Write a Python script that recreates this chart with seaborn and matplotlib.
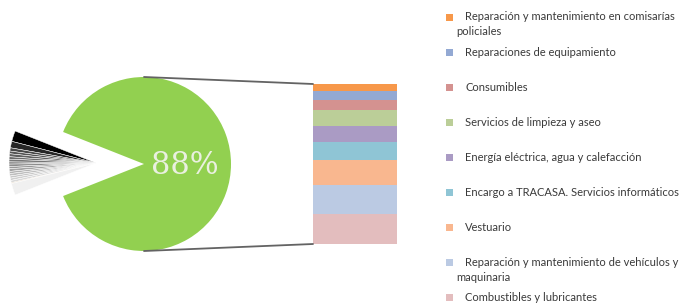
import matplotlib
matplotlib.use("Agg")
import matplotlib.pyplot as plt
import seaborn as sns
import pandas as pd
import numpy as np
from matplotlib.patches import ConnectionPatch, Rectangle

# ---------------- data ----------------
main_share = 88.0          # green slice (broken down in the bar)
main_label = "88%"

categories = [
    "Reparación y mantenimiento en comisarías\npoliciales",
    "Reparaciones de equipamiento",
    "Consumibles",
    "Servicios de limpieza y aseo",
    "Energía eléctrica, agua y calefacción",
    "Encargo a TRACASA. Servicios informáticos",
    "Vestuario",
    "Reparación y mantenimiento de vehículos y\nmaquinaria",
    "Combustibles y lubricantes",
]
bar_values = [4.0, 4.95, 5.5, 8.8, 8.6, 10.1, 13.75, 15.8, 16.5]  # top -> bottom
bar_colors = ["#F7984A", "#93A9D3", "#D49290", "#BBCE98", "#AA9BC4",
              "#8FC5D5", "#F9B78F", "#BBCAE3", "#E3BDBE"]

# small items of the exploded 12 % slice (top -> bottom)
other_values = [2.0, 1.2, 0.6, 0.5, 0.55, 0.45, 0.5, 0.4, 0.45, 0.4,
                0.5, 0.4, 0.45, 0.4, 0.42, 0.42, 0.16, 2.2]

# ---------------- style ----------------
sns.set_theme(style="white")
plt.rcParams["font.family"] = ["Lato", "DejaVu Sans"]

W, H = 681, 304
fig = plt.figure(figsize=(W / 100, H / 100), dpi=100)
fig.patch.set_facecolor("white")

# pie axes in pixel units (y up)
ax = fig.add_axes([0, 0, 1, 1])
R = 87
cx, cy = 144, H - 164
ecx, ecy = 96, H - 163

other_total = sum(other_values)
half = 360 * other_total / (other_total + main_share) / 2
start = 180 - half

n_mid = len(other_values) - 4
mid_grays = [plt.cm.Greys(v) for v in np.linspace(0.78, 0.25, n_mid)]
other_colors = ["#000000", "#262626"] + mid_grays + ["#D8C3A8", "#F0F0F0"]

ax.pie(other_values + [main_share], colors=other_colors + ["none"],
       startangle=start, counterclock=True, center=(ecx, ecy), radius=R,
       wedgeprops=dict(edgecolor="white", linewidth=0.35))
# hide the edge of the invisible wedge
ax.patches[-1].set_edgecolor("none")

wedges, _ = ax.pie([other_total, main_share], colors=["none", "#92D050"],
                   startangle=start, counterclock=True, center=(cx, cy),
                   radius=R, wedgeprops=dict(linewidth=0))
ax.text(185, H - 165, main_label, ha="center", va="center",
        fontsize=22, color="#EAF0E0", family="DejaVu Serif")
ax.set_xlim(0, W)
ax.set_ylim(0, H)
ax.set_aspect("equal")
ax.axis("off")

# ---------------- stacked bar ----------------
bx0, by0, bw, bh = 313, H - 244, 84, 160
axb = fig.add_axes([bx0 / W, by0 / H, bw / W, bh / H])
cum = [sum(bar_values[i:]) for i in range(len(bar_values))]
df = pd.DataFrame({"g": [""] * len(categories), "cum": cum, "cat": categories})
sns.barplot(data=df, x="g", y="cum", hue="cat", hue_order=categories,
            palette=bar_colors, dodge=False, width=1.0, linewidth=0,
            saturation=1, errorbar=None, legend=False, ax=axb)
total = sum(bar_values)
axb.set_xlim(-0.5, 0.5)
axb.set_ylim(0, total)
axb.axis("off")

# connector lines
for yp, yb in [(cy + R, total), (cy - R, 0)]:
    con = ConnectionPatch(xyA=(cx, yp), coordsA=ax.transData,
                          xyB=(-0.5, yb), coordsB=axb.transData,
                          color="#636363", linewidth=1.3)
    fig.add_artist(con)

# ---------------- legend ----------------
mark_x, text_x, wrap_x = 449, 465, 456
top_y, step, line_h = 17, 35.1, 14.5
for i, (lab, col) in enumerate(zip(categories, bar_colors)):
    y = top_y + i * step
    fig.patches.append(Rectangle(((mark_x - 3.5) / W, 1 - (y + 3.5) / H),
                                 7 / W, 7 / H, transform=fig.transFigure,
                                 facecolor=col, edgecolor="none"))
    for j, line in enumerate(lab.split("\n")):
        fig.text((text_x if j == 0 else wrap_x) / W, 1 - (y + j * line_h) / H,
                 line, ha="left", va="center", fontsize=8, color="#3A3A3A")

fig.savefig("out.png", dpi=100, facecolor="white")
